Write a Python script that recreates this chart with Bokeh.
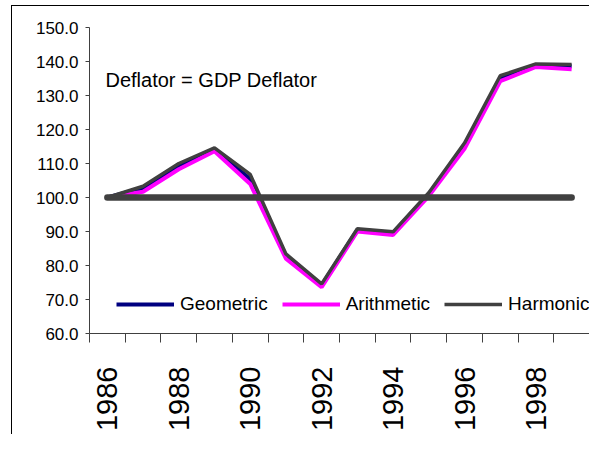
import math
from bokeh.plotting import figure
from bokeh.models import Range1d, FixedTicker, NumeralTickFormatter, Label, Legend, LegendItem, ColumnDataSource
from bokeh.embed import file_html
from bokeh.resources import INLINE

years = list(range(1986, 2000))
geometric = [100, 102.8, 109.4, 114.2, 105.4, 82.8, 74.2, 90.5, 89.6, 101.0, 115.3, 135.2, 139.0, 138.6]
arithmetic = [100, 101.7, 108.3, 113.6, 104.0, 82.0, 73.6, 90.0, 89.0, 100.4, 114.3, 134.2, 138.4, 137.7]
harmonic = [100, 103.3, 110.0, 114.6, 106.8, 83.4, 74.6, 90.8, 89.9, 101.4, 116.0, 135.8, 139.3, 139.1]
base = [100] * 14
label_years = [1986, 1988, 1990, 1992, 1994, 1996, 1998]
y_ticks = [60, 70, 80, 90, 100, 110, 120, 130, 140, 150]

src = ColumnDataSource(dict(year=years, geo=geometric, ari=arithmetic, har=harmonic, base=base))

FONT = "Liberation Sans"

p = figure(width=589, height=434, output_backend="svg", toolbar_location=None,
           x_range=Range1d(years[0] - 0.5, years[-1] + 0.5), y_range=Range1d(60, 150),
           min_border_left=89, min_border_right=0, min_border_top=27, min_border_bottom=94)
p.outline_line_color = None
p.grid.visible = False
p.background_fill_color = "white"
p.border_fill_color = None
# outer chart-area frame: thin left and top edges drawn behind the transparent canvas border
p.styles = {
    "background-color": "white",
    "background-image": "linear-gradient(#000,#000), linear-gradient(#000,#000)",
    "background-size": "1px 100%, 100% 1px",
    "background-position": "11px 5px, 11px 5px",
    "background-repeat": "no-repeat",
}

r1 = p.line("year", "geo", source=src, line_color="#000080", line_width=4)
r2 = p.line("year", "ari", source=src, line_color="#FF00FF", line_width=4)
r3 = p.line("year", "har", source=src, line_color="#404040", line_width=3.5)
p.line("year", "base", source=src, line_color="#404040", line_width=6.5, line_cap="round")

# y axis
ya = p.yaxis[0]
ya.ticker = FixedTicker(ticks=y_ticks, minor_ticks=[])
ya.formatter = NumeralTickFormatter(format="0.0")
ya.major_tick_out = 4
ya.major_tick_in = 0
ya.minor_tick_out = 0
ya.major_label_standoff = 7
ya.axis_line_color = "#404040"
ya.major_tick_line_color = "#404040"
ya.major_label_text_font = FONT
ya.major_label_text_font_size = "17px"
ya.major_label_text_color = "black"

# x axis
xa = p.xaxis[0]
xa.ticker = FixedTicker(ticks=label_years, minor_ticks=[y - 0.5 for y in years] + [years[-1] + 0.5])
xa.major_tick_out = 0
xa.major_tick_in = 0
xa.minor_tick_out = 9
xa.minor_tick_in = 0
xa.minor_tick_line_color = "#404040"
xa.axis_line_color = "#404040"
xa.major_label_orientation = math.pi / 2
xa.major_label_standoff = 24
xa.major_label_text_font = FONT
xa.major_label_text_font_size = "29px"
xa.major_label_text_color = "black"

legend = Legend(items=[LegendItem(label="Geometric", renderers=[r1]),
                       LegendItem(label="Arithmetic", renderers=[r2]),
                       LegendItem(label="Harmonic", renderers=[r3])],
                orientation="horizontal", location=(27, 18),
                border_line_color=None, background_fill_alpha=0,
                padding=0, margin=0, spacing=14, label_standoff=6,
                glyph_width=58, glyph_height=20, label_height=20,
                label_text_font=FONT, label_text_font_size="19px", label_text_color="black")
p.add_layout(legend)

p.add_layout(Label(x=years[0] - 0.5, x_offset=16, y=134.7, text="Deflator = GDP Deflator",
                   text_font=FONT, text_font_size="20px", text_baseline="middle", text_color="black"))

open("out.html", "w").write(file_html(p, INLINE))
